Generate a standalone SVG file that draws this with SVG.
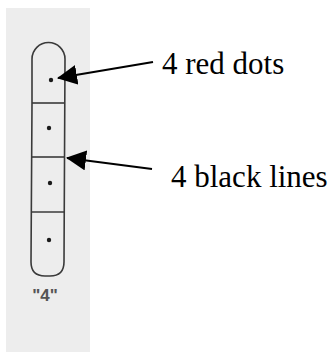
<svg xmlns="http://www.w3.org/2000/svg" width="334" height="352" viewBox="0 0 334 352">
<style>
.outline{fill:none;stroke:#3a3a3a;stroke-width:1.6}
.div{stroke:#3a3a3a;stroke-width:1.6}
.dot{fill:#1a1a1a}
.conn{stroke:#000;stroke-width:2.2;fill:none}
.lbl{font-family:"Liberation Serif","Times New Roman",serif;font-size:31px;fill:#000}
.cap{font-family:"Liberation Sans",Arial,sans-serif;font-size:17px;font-weight:bold;fill:#555}
</style>
<defs>
<marker id="ah" viewBox="0 0 20 20" refX="19" refY="10" markerWidth="20" markerHeight="20" markerUnits="userSpaceOnUse" orient="auto">
<path d="M0,0 L20,10 L0,20 Z" fill="#000"/>
</marker>
</defs>
<rect width="334" height="352" fill="#fff"/>
<rect x="6" y="8" width="84" height="344" fill="#ededed"/>
<g id="strip">
<path class="outline" d="M32,104 L32,59 A16.5,16.5 0 0 1 65,59 L64,262 Q64,276 50,276 L45,276 Q31,276 31,262 Z"/>
</g>
<g id="lines">
<line class="div" x1="32" y1="103" x2="64" y2="103"/>
<line class="div" x1="32" y1="157" x2="64" y2="157"/>
<line class="div" x1="31" y1="212" x2="64" y2="212"/>
</g>
<g id="dots">
<circle class="dot" cx="51" cy="80" r="2.2"/>
<circle class="dot" cx="49" cy="128" r="2.2"/>
<circle class="dot" cx="50" cy="183" r="2.2"/>
<circle class="dot" cx="49" cy="240" r="2.2"/>
</g>
<g id="caption">
<text class="cap" x="45" y="301" text-anchor="middle">"4"</text>
</g>
<g id="connectors">
<line class="conn" x1="153" y1="62" x2="58" y2="78" marker-end="url(#ah)"/>
<line class="conn" x1="152" y1="169" x2="67" y2="158" marker-end="url(#ah)"/>
</g>
<g id="label-dots">
<text class="lbl" x="162" y="74">4 red dots</text>
</g>
<g id="label-lines">
<text class="lbl" x="171" y="187">4 black lines</text>
</g>
</svg>
